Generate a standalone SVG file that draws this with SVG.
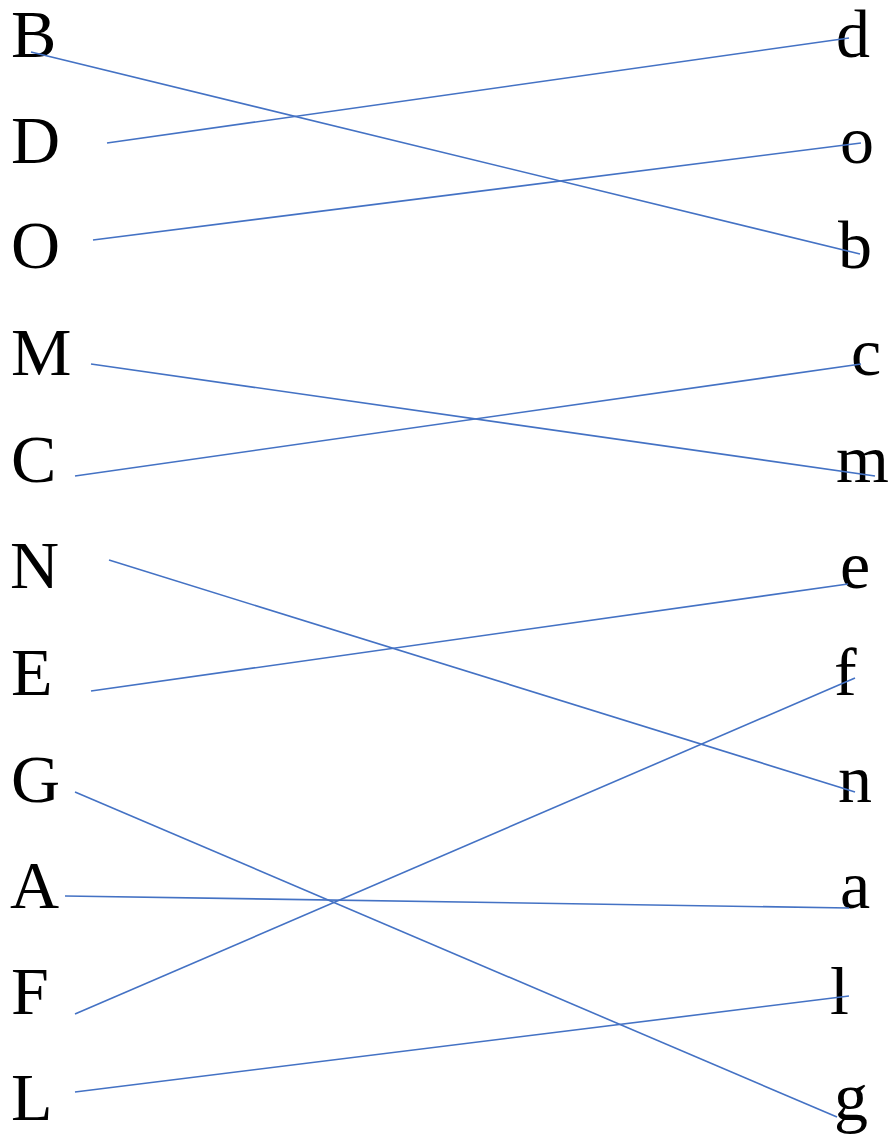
<svg xmlns="http://www.w3.org/2000/svg" width="893" height="1139" viewBox="0 0 893 1139">
<style>
text{font-family:"Liberation Serif","Times New Roman",serif;font-size:68px;fill:#000}
.c line{stroke:#4472C4;stroke-width:1.6;fill:none}
</style>
<rect width="893" height="1139" fill="#fff"/>
<g id="left">
<g id="nB"><text x="11" y="57">B</text></g>
<g id="nD"><text x="11" y="163">D</text></g>
<g id="nO"><text x="11" y="268">O</text></g>
<g id="nM"><text x="11" y="375">M</text></g>
<g id="nC"><text x="11" y="482">C</text></g>
<g id="nN"><text x="10" y="588">N</text></g>
<g id="nE"><text x="11" y="695">E</text></g>
<g id="nG"><text x="11" y="802">G</text></g>
<g id="nA"><text x="10" y="908">A</text></g>
<g id="nF"><text x="11" y="1014">F</text></g>
<g id="nL"><text x="11" y="1120">L</text></g>
</g>
<g id="right">
<g id="nd"><text x="836" y="57">d</text></g>
<g id="no"><text x="840" y="163">o</text></g>
<g id="nb"><text x="838" y="268">b</text></g>
<g id="nc"><text x="851" y="375">c</text></g>
<g id="nm"><text x="836" y="482">m</text></g>
<g id="ne"><text x="840" y="588">e</text></g>
<g id="nf"><text x="834" y="695">f</text></g>
<g id="nn"><text x="838" y="802">n</text></g>
<g id="na"><text x="840" y="908">a</text></g>
<g id="nl"><text x="830" y="1014">l</text></g>
<g id="ng"><text x="834" y="1120">g</text></g>
</g>
<g id="connectors" class="c">
<line x1="31" y1="52" x2="860" y2="254"/>
<line x1="107" y1="143" x2="849" y2="38"/>
<line x1="93" y1="240" x2="861" y2="143"/>
<line x1="91" y1="364" x2="875" y2="476"/>
<line x1="75" y1="476" x2="861" y2="364"/>
<line x1="109" y1="560" x2="855" y2="792"/>
<line x1="91" y1="691" x2="848" y2="584"/>
<line x1="75" y1="792" x2="837" y2="1117"/>
<line x1="65" y1="896" x2="849" y2="908"/>
<line x1="75" y1="1014" x2="855" y2="678"/>
<line x1="75" y1="1092" x2="849" y2="996"/>
</g>
</svg>
